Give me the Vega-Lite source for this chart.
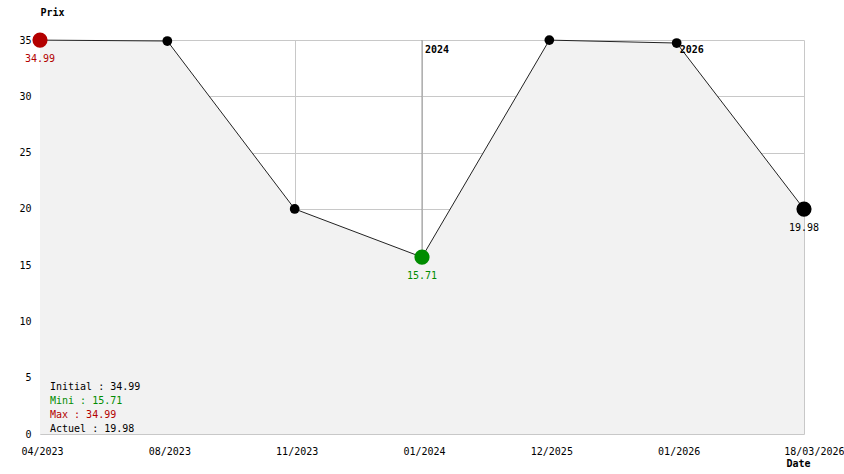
{
  "$schema": "https://vega.github.io/schema/vega-lite/v6.json",
  "width": 764,
  "height": 394,
  "autosize": {"type": "none"},
  "padding": {"left": 40, "top": 40, "right": 40, "bottom": 40},
  "background": "white",
  "config": {"view": {"stroke": null}, "font": "DejaVu Sans Mono"},
  "datasets": {
    "prices": [
      {"date": "04/2023", "price": 34.99, "role": "max"},
      {"date": "08/2023", "price": 34.91, "role": "normal"},
      {"date": "11/2023", "price": 19.99, "role": "normal"},
      {"date": "01/2024", "price": 15.71, "role": "min"},
      {"date": "12/2025", "price": 34.99, "role": "normal"},
      {"date": "01/2026", "price": 34.73, "role": "normal"},
      {"date": "18/03/2026", "price": 19.98, "role": "actuel"}
    ],
    "years": [
      {"date": "01/2024", "year": "2024"},
      {"date": "01/2026", "year": "2026"}
    ],
    "stats": [
      {"line": 1, "label": "Initial : 34.99"},
      {"line": 2, "label": "Mini : 15.71"},
      {"line": 3, "label": "Max : 34.99"},
      {"line": 4, "label": "Actuel : 19.98"}
    ]
  },
  "layer": [
    {
      "data": {"name": "years"},
      "mark": {"type": "rule", "color": "#999999", "strokeWidth": 1},
      "encoding": {
        "x": {"field": "date", "type": "ordinal"}
      }
    },
    {
      "data": {"name": "prices"},
      "mark": {"type": "area", "color": "#f2f2f2", "opacity": 1},
      "encoding": {
        "x": {
          "field": "date", "type": "ordinal", "sort": null,
          "scale": {"type": "point", "padding": 0, "domain": ["04/2023", "08/2023", "11/2023", "01/2024", "12/2025", "01/2026", "18/03/2026"]},
          "axis": {
            "labelAngle": 0, "ticks": false, "domain": false, "labelPadding": 12,
            "labelAlign": {"condition": {"test": "datum.label == '18/03/2026'", "value": "right"}, "value": "center"},
            "labelOffset": {"condition": {"test": "datum.label == '18/03/2026'", "value": 40}, "value": 2},
            "labelBaseline": "top",
            "labelFont": "DejaVu Sans Mono", "labelFontSize": 10, "labelColor": "#000000",
            "labelOverlap": false, "labelBound": false, "grid": true, "gridColor": "#c8c8c8",
            "title": "Date", "titleFont": "DejaVu Sans Mono", "titleFontSize": 10, "titleFontWeight": "bold",
            "titleColor": "#000000", "titleX": 758, "titleY": 29, "titleAlign": "center", "titleBaseline": "middle"
          }
        },
        "y": {
          "field": "price", "type": "quantitative",
          "scale": {"domain": [0, 35], "nice": false, "zero": true},
          "axis": {
            "values": [0, 5, 10, 15, 20, 25, 30, 35], "grid": true, "gridColor": "#c8c8c8",
            "domain": false, "ticks": false, "labelPadding": 9,
            "labelFont": "DejaVu Sans Mono", "labelFontSize": 10, "labelColor": "#000000",
            "title": "Prix", "titleAngle": 0, "titleX": 0, "titleY": -28, "titleAlign": "left",
            "titleBaseline": "middle", "titleFont": "DejaVu Sans Mono", "titleFontSize": 10,
            "titleFontWeight": "bold", "titleColor": "#000000"
          }
        }
      }
    },
    {
      "data": {"name": "prices"},
      "mark": {"type": "line", "color": "#222222", "strokeWidth": 1},
      "encoding": {
        "x": {"field": "date", "type": "ordinal", "sort": null},
        "y": {"field": "price", "type": "quantitative"}
      }
    },
    {
      "data": {"name": "years"},
      "mark": {"type": "text", "align": "left", "baseline": "top", "dx": 3, "dy": 5, "fontWeight": "bold", "color": "#000000", "font": "DejaVu Sans Mono", "fontSize": 10},
      "encoding": {
        "x": {"field": "date", "type": "ordinal"},
        "y": {"datum": 35},
        "text": {"field": "year"}
      }
    },
    {
      "data": {"name": "prices"},
      "mark": {"type": "circle", "opacity": 1},
      "encoding": {
        "x": {"field": "date", "type": "ordinal", "sort": null},
        "y": {"field": "price", "type": "quantitative"},
        "color": {"field": "role", "type": "nominal", "scale": {"domain": ["max", "min", "actuel", "normal"], "range": ["#b30000", "#008c00", "#000000", "#000000"]}, "legend": null},
        "size": {"condition": {"test": "datum.role == 'normal'", "value": 95}, "value": 230}
      }
    },
    {
      "data": {"name": "prices"},
      "transform": [{"filter": "datum.role != 'normal'"}],
      "mark": {"type": "text", "align": "center", "baseline": "middle", "dy": 19, "font": "DejaVu Sans Mono", "fontSize": 10},
      "encoding": {
        "x": {"field": "date", "type": "ordinal", "sort": null},
        "y": {"field": "price", "type": "quantitative"},
        "text": {"field": "price", "type": "quantitative", "format": ".2f"},
        "color": {"field": "role", "type": "nominal", "legend": null}
      }
    },
    {
      "data": {"name": "stats"},
      "transform": [{"filter": "datum.line == 1"}],
      "mark": {"type": "text", "align": "left", "baseline": "middle", "dx": 10, "dy": -47, "color": "#000000", "font": "DejaVu Sans Mono", "fontSize": 10},
      "encoding": {"x": {"datum": "04/2023"}, "y": {"datum": 0}, "text": {"field": "label"}}
    },
    {
      "data": {"name": "stats"},
      "transform": [{"filter": "datum.line == 2"}],
      "mark": {"type": "text", "align": "left", "baseline": "middle", "dx": 10, "dy": -33, "color": "#008c00", "font": "DejaVu Sans Mono", "fontSize": 10},
      "encoding": {"x": {"datum": "04/2023"}, "y": {"datum": 0}, "text": {"field": "label"}}
    },
    {
      "data": {"name": "stats"},
      "transform": [{"filter": "datum.line == 3"}],
      "mark": {"type": "text", "align": "left", "baseline": "middle", "dx": 10, "dy": -19, "color": "#b30000", "font": "DejaVu Sans Mono", "fontSize": 10},
      "encoding": {"x": {"datum": "04/2023"}, "y": {"datum": 0}, "text": {"field": "label"}}
    },
    {
      "data": {"name": "stats"},
      "transform": [{"filter": "datum.line == 4"}],
      "mark": {"type": "text", "align": "left", "baseline": "middle", "dx": 10, "dy": -5, "color": "#000000", "font": "DejaVu Sans Mono", "fontSize": 10},
      "encoding": {"x": {"datum": "04/2023"}, "y": {"datum": 0}, "text": {"field": "label"}}
    }
  ]
}
